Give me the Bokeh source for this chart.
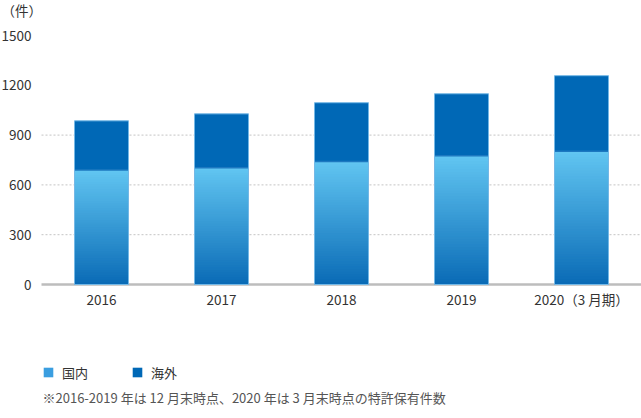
from bokeh.plotting import figure
from bokeh.models import Range1d, FixedTicker, Label, Legend, LegendItem
from bokeh.embed import file_html
from bokeh.resources import INLINE

# ---- data ----
years = ["2016", "2017", "2018", "2019", "2020（3 月期）"]
domestic = [690, 703, 741, 775, 803]
overseas = [296, 325, 354, 374, 455]
y_ticks = [0, 300, 600, 900, 1200, 1500]
grid_ticks = [300, 600, 900]
unit_label = "（件）"
footnote = "※2016-2019 年は 12 月末時点、2020 年は 3 月末時点の特許保有件数"
series_names = ["国内", "海外"]

FONT = "Noto Sans CJK JP"
C_OVER = "#0068b6"
C_TOP = (0x62, 0xc6, 0xf2)
C_BOT = (0x0a, 0x6b, 0xb6)
BAR_W = 0.45

W, H = 641, 418
xs = list(range(len(years)))
totals = [d + o for d, o in zip(domestic, overseas)]

# layout: the frame covers the whole canvas.
# plot area x 41..641 (one category = 120 px), value 0 at y=284, 1500 at y=35
cat_px = 120.0
x_left = -0.5
x_start = x_left - 41 / cat_px
x_end = x_start + W / cat_px
px_per_unit = (284 - 35) / 1500.0
y_end = 1500 + 35 / px_per_unit
y_start = -(H - 284) / px_per_unit

p = figure(width=W, height=H, output_backend="svg", toolbar_location=None,
           x_range=Range1d(x_start, x_end), y_range=Range1d(y_start, y_end),
           min_border_left=0, min_border_right=0, min_border_top=0, min_border_bottom=0)
p.outline_line_color = None
p.background_fill_color = "white"
p.border_fill_color = "white"
p.xgrid.visible = False
p.ygrid.visible = False

# dashed grid lines (only across the plot area)
n_g = len(grid_ticks)
p.segment(x0=[x_left] * n_g, x1=[x_end] * n_g, y0=grid_ticks, y1=grid_ticks,
          line_color="#c4c4c4", line_width=1, line_dash="2 2")

# baseline
p.segment(x0=[x_left], x1=[x_end], y0=[0], y1=[0], line_color="#bdbdbd", line_width=2.5)

# gradient domestic bars (overlapping vertical slices of each value)
N = 48
gx, gb, gt, gc = [], [], [], []
for x, d in zip(xs, domestic):
    for k in range(N):
        f = (k + 0.5) / N  # 0 bottom -> 1 top
        r = int(C_BOT[0] + (C_TOP[0] - C_BOT[0]) * f)
        g = int(C_BOT[1] + (C_TOP[1] - C_BOT[1]) * f)
        b = int(C_BOT[2] + (C_TOP[2] - C_BOT[2]) * f)
        gx.append(x)
        gb.append(d * k / N)
        gt.append(d * min(k + 1.8, N) / N)
        gc.append("#%02x%02x%02x" % (r, g, b))
p.vbar(x=gx, bottom=gb, top=gt, width=BAR_W, fill_color=gc, line_color=None)

# overseas bars
p.vbar(x=xs, bottom=domestic, top=totals, width=BAR_W, fill_color=C_OVER, line_color=None)
# separator
p.vbar(x=xs, bottom=domestic, top=domestic, width=BAR_W, fill_color=None,
       line_color="#1d78c0", line_width=1.5)
# thin light outline
p.vbar(x=xs, bottom=0, top=totals, width=BAR_W, fill_color=None,
       line_color="#74b8e6", line_width=1)

# legend glyphs (hidden renderers, shown only in the legend)
r_dom = p.vbar(x=[0], bottom=[0], top=[1], width=0.1, fill_color="#3a9ee0", line_color=None,
               visible=False)
r_over = p.vbar(x=[0], bottom=[0], top=[1], width=0.1, fill_color=C_OVER, line_color=None,
                visible=False)
legend = Legend(items=[LegendItem(label=series_names[0], renderers=[r_dom]),
                       LegendItem(label=series_names[1], renderers=[r_over])],
                orientation="horizontal", location=(42, 36),
                glyph_width=12, glyph_height=12, label_standoff=8, spacing=43,
                padding=0, margin=0, border_line_color=None, background_fill_alpha=0,
                label_text_font=FONT, label_text_font_size="13px", label_text_color="#333333",
                label_height=20)
p.add_layout(legend, "center")

# axes (placed inside the frame)
p.yaxis.fixed_location = x_left
p.yaxis.ticker = FixedTicker(ticks=y_ticks)
p.yaxis.axis_line_color = None
p.yaxis.major_tick_line_color = None
p.yaxis.minor_tick_line_color = None
p.yaxis.major_tick_in = 0
p.yaxis.major_tick_out = 0
p.yaxis.major_label_standoff = 10
p.yaxis.major_label_text_font = FONT
p.yaxis.major_label_text_font_size = "13.5px"
p.yaxis.major_label_text_color = "#333333"

p.xaxis.fixed_location = 0
p.xaxis.ticker = FixedTicker(ticks=xs)
p.xaxis.major_label_overrides = {i: y for i, y in zip(xs, years)}
p.xaxis.axis_line_color = None
p.xaxis.major_tick_line_color = None
p.xaxis.minor_tick_line_color = None
p.xaxis.major_tick_in = 0
p.xaxis.major_tick_out = 0
p.xaxis.major_label_standoff = 4
p.xaxis.major_label_text_font = FONT
p.xaxis.major_label_text_font_size = "13.5px"
p.xaxis.major_label_text_color = "#333333"

# unit label and footnote
p.add_layout(Label(x=1, y=H - 9, x_units="screen", y_units="screen", text=unit_label,
                   text_font=FONT, text_font_size="13.5px", text_color="#333333",
                   text_baseline="middle", text_align="left"))
p.add_layout(Label(x=42, y=21, x_units="screen", y_units="screen", text=footnote,
                   text_font=FONT, text_font_size="13px", text_color="#555555",
                   text_baseline="middle", text_align="left"))

open("out.html", "w").write(file_html(p, INLINE))
